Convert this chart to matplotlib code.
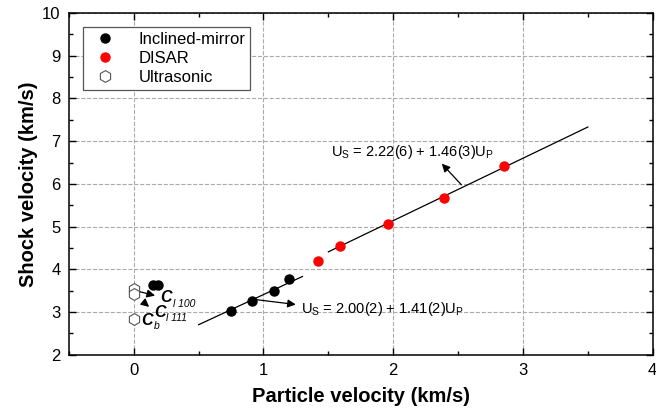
import matplotlib.pyplot as plt
from matplotlib.ticker import MultipleLocator

plt.rcParams['font.family'] = ['Liberation Sans', 'DejaVu Sans']
plt.rcParams['mathtext.fontset'] = 'custom'
plt.rcParams['mathtext.rm'] = 'Liberation Sans'
plt.rcParams['mathtext.it'] = 'Liberation Sans:italic'
plt.rcParams['mathtext.bf'] = 'Liberation Sans:bold'

# Данные
mirror_up = [0.15, 0.19, 0.75, 0.915, 1.08, 1.20]
mirror_us = [3.63, 3.64, 3.03, 3.25, 3.49, 3.78]

disar_up = [1.42, 1.59, 1.96, 2.39, 2.85]
disar_us = [4.19, 4.54, 5.07, 5.68, 6.41]

ultra_up = [0.0, 0.0, 0.0]
ultra_us = [3.53, 3.42, 2.84]

# линейные аппроксимации Us = a + b*Up
fit_low = (2.00, 1.41, 0.5, 1.3)
fit_high = (2.22, 1.46, 1.5, 3.5)

fig, ax = plt.subplots(figsize=(6.56, 4.16), dpi=100)
fig.subplots_adjust(left=0.105, right=0.995, bottom=0.147, top=0.969)

for a, b, x0, x1 in (fit_low, fit_high):
    ax.plot([x0, x1], [a + b * x0, a + b * x1], color='black', lw=0.9, zorder=2)

ax.plot(mirror_up, mirror_us, 'o', color='black', ms=6.5, label='Inclined-mirror', zorder=3)
ax.plot(disar_up, disar_us, 'o', color='#ff0000', ms=6.5, label='DISAR', zorder=3)
ax.plot(ultra_up, ultra_us, 'h', mfc='white', mec='#555555', mew=0.8, ms=8.5,
        label='Ultrasonic', zorder=3)

arrow = dict(arrowstyle='-|>', color='black', lw=0.9, mutation_scale=12)

# подписи уравнений
ax.annotate('', xy=(1.27, 3.17), xytext=(0.92, 3.30), arrowprops=arrow)
ax.text(1.29, 3.08, r'U$_\mathrm{S}$ = 2.00(2) + 1.41(2)U$_\mathrm{P}$', fontsize=10.5, va='center')
ax.annotate('', xy=(2.36, 6.52), xytext=(2.54, 5.93), arrowprops=arrow)
ax.text(1.52, 6.75, r'U$_\mathrm{S}$ = 2.22(6) + 1.46(3)U$_\mathrm{P}$', fontsize=10.5, va='center')

# подписи ультразвуковых скоростей
ax.annotate('', xy=(0.185, 3.37), xytext=(0.03, 3.49), arrowprops=arrow)
ax.annotate('', xy=(0.135, 3.08), xytext=(0.065, 3.26), arrowprops=arrow)
for x, y, sub in ((0.205, 3.33, 'l 100'), (0.155, 3.00, 'l 111'), (0.055, 2.80, 'b')):
    ax.text(x, y, 'C', fontsize=11.5, fontweight='bold', style='italic', va='center')
    ax.annotate(sub, (x, y), xytext=(9, -4), textcoords='offset points',
                fontsize=7.5, style='italic', va='center')

ax.set_xlim(-0.5, 4)
ax.set_ylim(2, 10)
ax.xaxis.set_major_locator(MultipleLocator(1))
ax.xaxis.set_minor_locator(MultipleLocator(0.5))
ax.yaxis.set_major_locator(MultipleLocator(1))
ax.yaxis.set_minor_locator(MultipleLocator(0.5))
ax.tick_params(which='both', direction='in', top=True, right=True, labelsize=12)
ax.tick_params(which='major', length=5, width=1, pad=6)
ax.tick_params(which='minor', length=3, width=1)
for s in ax.spines.values():
    s.set_linewidth(1.1)

ax.grid(True, which='major', linestyle='--', color='#aaaaaa', lw=0.8)
ax.set_axisbelow(True)

ax.set_xlabel('Particle velocity (km/s)', fontsize=14.5, fontweight='bold', labelpad=6)
ax.set_ylabel('Shock velocity (km/s)', fontsize=14.5, fontweight='bold', labelpad=3)

leg = ax.legend(loc='upper left', fontsize=12, fancybox=False, edgecolor='#555555',
                framealpha=1, handletextpad=1.0, borderpad=0.3, labelspacing=0.25,
                borderaxespad=0, bbox_to_anchor=(0.025, 0.96))
leg.get_frame().set_linewidth(0.9)

plt.savefig('out.png', dpi=100)
